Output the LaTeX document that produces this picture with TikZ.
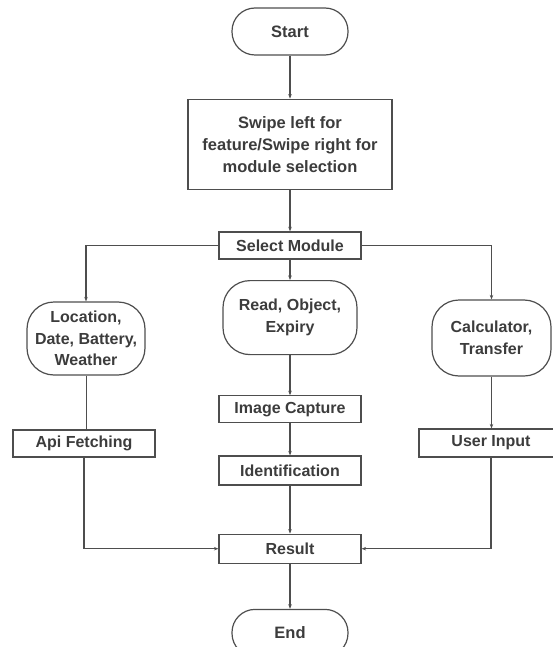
\documentclass[tikz,border=0pt]{standalone}
\usepackage{fontspec}
\setmainfont{Liberation Sans}
\usepackage{xcolor}
\usepackage{tikz}
\usetikzlibrary{arrows.meta, positioning}

\definecolor{inkgray}{HTML}{3C3C3C}
\definecolor{linegray}{HTML}{4E4E4E}

\begin{document}
\begin{tikzpicture}[
  x=1pt, y=1pt,
  node distance=40pt,
  every node/.style={font=\fontsize{16}{21.5}\selectfont\bfseries, text=inkgray},
  term/.style={rectangle, rounded corners=23pt, draw=linegray, line width=1.2pt, minimum width=116pt, minimum height=47pt, align=center, font=\fontsize{16.5}{21.5}\selectfont\bfseries},
  proc/.style={rectangle, draw=linegray, line width=1.2pt, minimum width=142pt, minimum height=27pt, inner sep=2pt, align=center},
  opt/.style={rectangle, rounded corners=27pt, draw=linegray, line width=1.2pt, minimum height=74pt, inner sep=3pt, align=center},
  arr/.style={-{Stealth[length=4.5pt, width=3.5pt]}, line width=1.1pt, linegray},
  link/.style={line width=0.7pt, linegray},
]
\useasboundingbox (0,0) rectangle (552,-647);

% Main column
\node[term] (start) at (290,-31.5) {Start};
\node[proc, minimum width=204pt, minimum height=90pt, below=43pt of start, font=\fontsize{16.5}{22}\selectfont\bfseries] (swipe) {Swipe left for\\feature/Swipe right for\\module selection};
\node[proc, below=41.5pt of swipe] (select) {Select Module};
\node[opt, minimum width=134pt, below=20.5pt of select] (read) {Read, Object,\\Expiry};
\node[proc, below=40pt of read] (capture) {Image Capture};
\node[proc, minimum height=29pt, below=32pt of capture] (ident) {Identification};
\node[proc, minimum height=29pt, below=48pt of ident] (result) {Result};
\node[term, below=45pt of result] (end) {End};

% Side branches
\node[opt, minimum width=118pt, minimum height=73pt] (loc) at (86,-338.5) {Location,\\Date, Battery,\\Weather};
\node[opt, minimum width=119pt, minimum height=76pt] (calc) at (491.5,-338) {Calculator,\\Transfer};
\node[proc, minimum width=142pt] (api) at (84,-443.5) {Api Fetching};
\node[proc, minimum width=144pt, minimum height=28pt] (input) at (491,-443) {User Input};

% Arrows
\draw[arr] (start) -- (swipe);
\draw[arr] (swipe) -- (select);
\draw[arr] (select) -- (read);
\draw[arr] (select.west) -| (loc.north);
\draw[arr] (select.east) -| (calc.north);
\draw[link] (loc.south) -- (loc.south |- api.north);
\draw[arr] (calc.south) -- (calc.south |- input.north);
\draw[arr] (read) -- (capture);
\draw[arr] (capture) -- (ident);
\draw[arr] (ident) -- (result);
\draw[arr] (api.south) |- (result.west);
\draw[arr] (input.south) |- (result.east);
\draw[arr] (result) -- (end);

\end{tikzpicture}
\end{document}
